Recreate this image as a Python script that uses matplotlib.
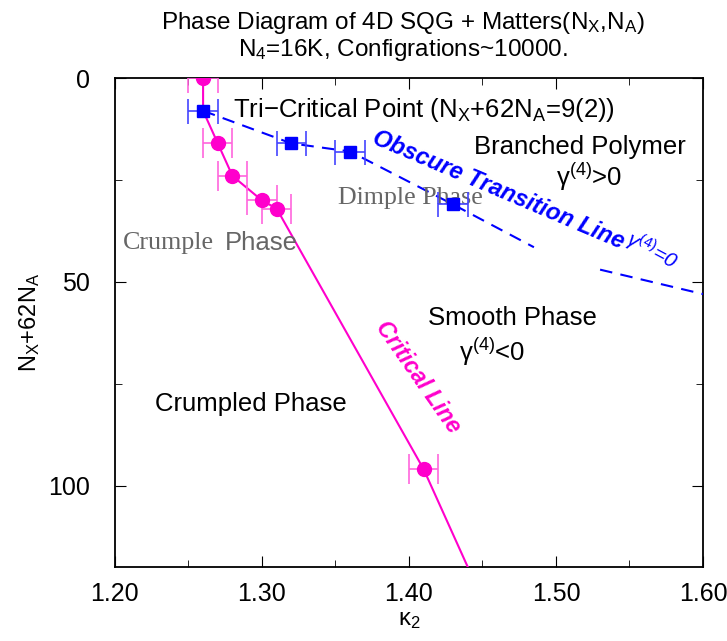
import numpy as np
import matplotlib
matplotlib.use("Agg")
import matplotlib.pyplot as plt
from matplotlib.ticker import MultipleLocator, FormatStrFormatter

plt.rcParams['font.family'] = ['Liberation Sans', 'DejaVu Sans']
plt.rcParams['mathtext.fontset'] = 'custom'
plt.rcParams['mathtext.rm'] = 'Liberation Sans'
plt.rcParams['mathtext.it'] = 'Liberation Sans:italic'

# critical line (magenta) - measured points
crit_k = [1.26, 1.27, 1.28, 1.30, 1.31, 1.41]
crit_n = [0, 16, 24, 30, 32, 96]
crit_err = [0.01, 0.01, 0.01, 0.01, 0.01, 0.01]
# line path (through tri-critical point, extended to the bottom)
crit_line_k = [1.26, 1.26, 1.27, 1.28, 1.30, 1.31, 1.41, 1.44]
crit_line_n = [0, 8, 16, 24, 30, 32, 96, 120]

# obscure transition line (blue)
obs_k = [1.26, 1.32, 1.36, 1.43]
obs_n = [8, 16, 18, 31]
obs_err = [0.01, 0.01, 0.01, 0.01]
obs_line_k = [1.26, 1.32, 1.36, 1.43, 1.485, np.nan, 1.53, 1.60]
obs_line_n = [8, 16, 18, 31, 41.5, np.nan, 47, 53]

magenta = '#ff00cc'
blue = '#0000ff'
gray = '#666666'

fig = plt.figure(figsize=(7.27, 6.41), dpi=100)
ax = fig.add_axes([0.158, 0.1155, 0.809, 0.7625])

ax.plot(crit_line_k, crit_line_n, color=magenta, lw=1.5, zorder=3)
ax.errorbar(crit_k, crit_n, xerr=crit_err, fmt='o', color=magenta, ms=10,
            ecolor='#ff66dd', elinewidth=1.2, capsize=11, capthick=1.2, zorder=4)

ax.plot(obs_line_k, obs_line_n, color=blue, lw=1.5, ls=(0, (6, 4)), zorder=3)
ax.errorbar(obs_k, obs_n, xerr=obs_err, fmt='s', color=blue, ms=8,
            ecolor='#4444ff', elinewidth=1.2, capsize=9, capthick=1.2, zorder=5)

ax.set_xlim(1.20, 1.60)
ax.set_ylim(120, 0)
ax.xaxis.set_major_locator(MultipleLocator(0.1))
ax.xaxis.set_minor_locator(MultipleLocator(0.05))
ax.set_yticks([0, 50, 100])
ax.yaxis.set_minor_locator(MultipleLocator(25))
ax.xaxis.set_major_formatter(FormatStrFormatter('%.2f'))
ax.tick_params(which='both', direction='in', top=True, right=True, labelsize=18)
ax.tick_params(axis='x', pad=11)
ax.tick_params(axis='y', pad=18)
ax.tick_params(which='major', length=8)
ax.tick_params(which='minor', length=5)
for s in ax.spines.values():
    s.set_linewidth(1.3)

ax.set_xlabel('κ$_\\mathrm{2}$', fontsize=17, labelpad=2)
ax.set_ylabel('N$_\\mathrm{X}$+62N$_\\mathrm{A}$', fontsize=17, labelpad=4)

fig.text(0.554, 0.964, 'Phase Diagram of 4D SQG + Matters(N$_\\mathrm{X}$,N$_\\mathrm{A}$)',
         ha='center', va='center', fontsize=17.5)
fig.text(0.554, 0.922, 'N$_\\mathrm{4}$=16K, Configrations~10000.', ha='center', va='center',
         fontsize=17.5)

ax.text(1.2803, 7.8, 'Tri−Critical Point (N$_\\mathrm{X}$+62N$_\\mathrm{A}$=9(2))', fontsize=18.5, va='center')
ax.text(1.5163, 16.9, 'Branched Polymer', fontsize=18.5, ha='center', va='center')
ax.text(1.5224, 24.3, 'γ$^{(4)}$>0', fontsize=18.5, ha='center', va='center')
ax.text(1.4605, 27.5, 'Obscure Transition Line', fontsize=17, color=blue, fontweight='bold',
        fontstyle='italic', rotation=-23, ha='center', va='center')
ax.text(1.5653, 42.4, 'γ$^{(4)}$=0', fontsize=15, color=blue, fontstyle='italic',
        rotation=-28, ha='center', va='center')
ax.text(1.4007, 29.4, 'Dimple Phase', fontsize=18.7, color=gray, family='Liberation Serif',
        ha='center', va='center')
ax.text(1.2054, 40.4, 'Crumple', fontsize=18.7, color=gray, family='Liberation Serif',
        va='center')
ax.text(1.2748, 40.4, 'Phase', fontsize=18.5, color=gray, va='center')
ax.text(1.4704, 58.8, 'Smooth Phase', fontsize=18.5, ha='center', va='center')
ax.text(1.4563, 67.2, 'γ$^{(4)}$<0', fontsize=18.5, ha='center', va='center')
ax.text(1.2925, 80.1, 'Crumpled Phase', fontsize=18.5, ha='center', va='center')
ax.text(1.4061, 73.5, 'Critical Line', fontsize=16.6, color=magenta, fontweight='bold',
        fontstyle='italic', rotation=-55, ha='center', va='center')

fig.savefig('out.png', dpi=100)
